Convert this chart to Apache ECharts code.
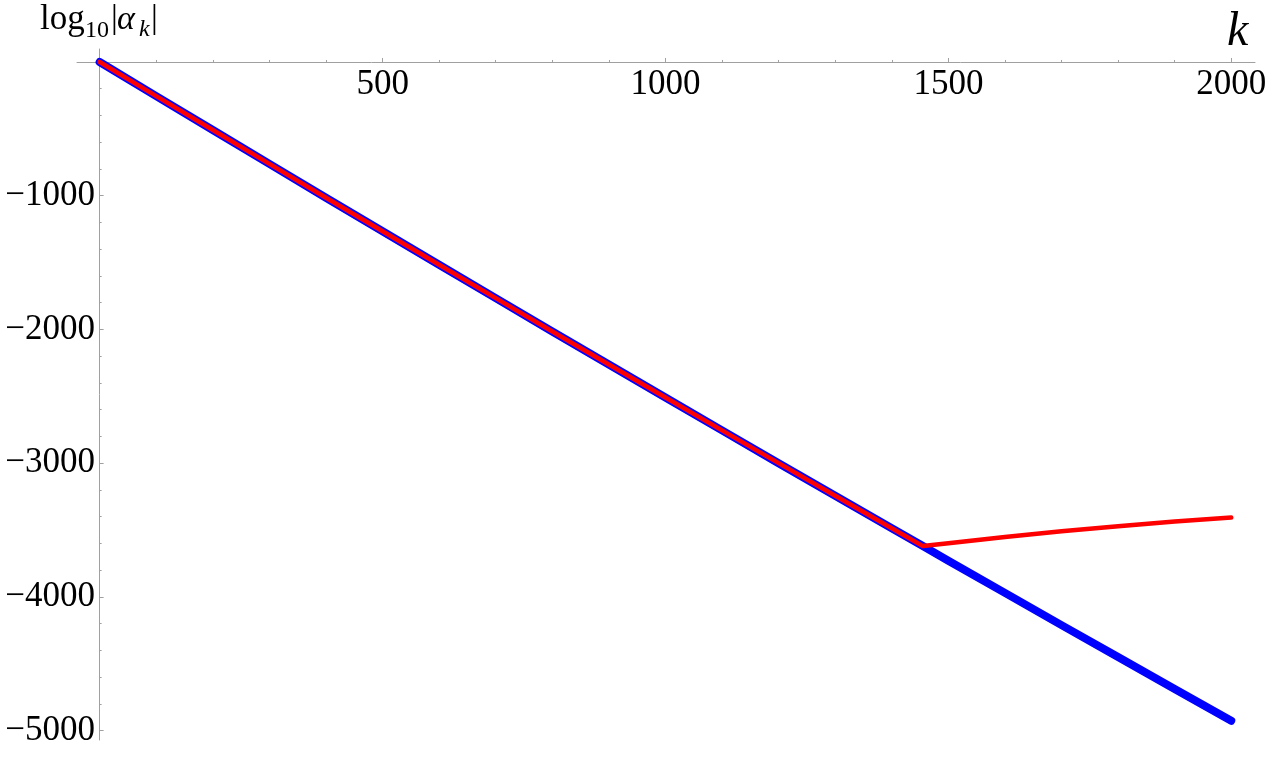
<!DOCTYPE html>
<html>
<head>
<meta charset="utf-8">
<script src="https://cdn.jsdelivr.net/npm/echarts@6/dist/echarts.min.js"></script>
<style>html,body{margin:0;padding:0;background:#fff;}#c{width:1280px;height:757px;}</style>
</head>
<body>
<div id="c"></div>
<script>
// Data
var kBlue = [0,100,200,300,400,500,600,700,800,900,1000,1100,1200,1300,1400,1455,1500,1600,1700,1800,1900,2000];
var vBlue = [0,-255,-509,-762,-1015,-1266,-1516,-1766,-2015,-2262,-2509,-2755,-3000,-3244,-3487,-3620,-3729,-3970,-4211,-4450,-4688,-4926];
var kRed = [0,100,200,300,400,500,600,700,800,900,1000,1100,1200,1300,1400,1455,1500,1600,1700,1800,1900,2000];
var vRed = [0,-255,-509,-762,-1015,-1266,-1516,-1766,-2015,-2262,-2509,-2755,-3000,-3244,-3487,-3620,-3598,-3552,-3509,-3471,-3437,-3407];
var xMajorTicks = [500,1000,1500,2000];
var xMinorTicks = [100,200,300,400,600,700,800,900,1100,1200,1300,1400,1600,1700,1800,1900];
var yMajorTicks = [-5000,-4000,-3000,-2000,-1000];
var yMinorTicks = [-4800,-4600,-4400,-4200,-3800,-3600,-3400,-3200,-2800,-2600,-2400,-2200,-1800,-1600,-1400,-1200,-800,-600,-400,-200];

function pairs(ks, vs){ return ks.map(function(k,i){ return [k, vs[i]]; }); }

var FONT = 'Liberation Serif';
var AXC = '#a0a0a0';
var chart = echarts.init(document.getElementById('c'), null, {renderer:'canvas'});
var X_MIN = -40, X_MAX = 2042, Y_MIN = -5070, Y_MAX = 97;
function minusFmt(v){ return v < 0 ? '\u2212' + Math.abs(v) : String(v); }

chart.setOption({
  animation:false,
  backgroundColor:'#fff',
  grid:[
    {left:77, right:25, top:49, bottom:17, containLabel:false, outerBoundsMode:'none'},
    {left:100, right:25, top:62, bottom:17, containLabel:false, outerBoundsMode:'none'}
  ],
  xAxis:[
    {type:'value', gridIndex:0, min:X_MIN, max:X_MAX, position:'bottom',
     axisLine:{show:true, onZero:true, lineStyle:{color:AXC, width:1}},
     axisTick:{show:true, inside:true, length:4, customValues:xMajorTicks, lineStyle:{color:AXC}},
     axisLabel:{show:false}, splitLine:{show:false}},
    {type:'value', gridIndex:0, min:X_MIN, max:X_MAX, position:'bottom',
     axisLine:{show:false, onZero:true},
     axisTick:{show:true, inside:true, length:2, customValues:xMinorTicks, lineStyle:{color:AXC}},
     axisLabel:{show:false}, splitLine:{show:false}},
    {type:'value', gridIndex:1, min:0, max:X_MAX, position:'top',
     axisLine:{show:false, onZero:false}, axisTick:{show:false},
     axisLabel:{show:true, inside:true, customValues:xMajorTicks, margin:5, color:'#000', fontFamily:FONT, fontSize:35,
       formatter:function(v){ return String(v); }},
     splitLine:{show:false}}
  ],
  yAxis:[
    {type:'value', gridIndex:0, min:Y_MIN, max:Y_MAX, position:'left',
     axisLine:{show:true, onZero:true, lineStyle:{color:AXC, width:1}},
     axisTick:{show:true, inside:true, length:4, customValues:yMajorTicks, lineStyle:{color:AXC}},
     axisLabel:{show:false}, splitLine:{show:false}},
    {type:'value', gridIndex:0, min:Y_MIN, max:Y_MAX, position:'left',
     axisLine:{show:false, onZero:true},
     axisTick:{show:true, inside:true, length:2, customValues:yMinorTicks, lineStyle:{color:AXC}},
     axisLabel:{show:false}, splitLine:{show:false}},
    {type:'value', gridIndex:1, min:Y_MIN, max:0, position:'left',
     axisLine:{show:false, onZero:false}, axisTick:{show:false},
     axisLabel:{show:true, customValues:yMajorTicks, margin:5, color:'#000', fontFamily:FONT, fontSize:35, formatter:minusFmt},
     splitLine:{show:false}}
  ],
  series:[
    {type:'line', xAxisIndex:0, yAxisIndex:0, data:pairs(kBlue, vBlue), showSymbol:false, symbol:'none',
     lineStyle:{color:'#0000ff', width:8, cap:'round', join:'round'}, z:2},
    {type:'line', xAxisIndex:0, yAxisIndex:0, data:pairs(kRed, vRed), showSymbol:false, symbol:'none',
     lineStyle:{color:'#ff0000', width:4.5, cap:'round', join:'round'}, z:3}
  ],
  graphic:[
    {type:'text', left:40, top:2, style:{text:'log', font:'35px "Liberation Serif"', fill:'#000'}},
    {type:'text', left:85, top:19, style:{text:'10', font:'24px "Liberation Serif"', fill:'#000'}},
    {type:'text', left:111, top:2, style:{text:'|', font:'34px "Liberation Serif"', fill:'#000'}},
    {type:'text', left:117, top:3, style:{text:'\u03b1', font:'italic 34px "Liberation Serif"', fill:'#000'}},
    {type:'text', left:139, top:18, style:{text:'k', font:'italic 24px "Liberation Serif"', fill:'#000'}},
    {type:'text', left:151, top:2, style:{text:'|', font:'34px "Liberation Serif"', fill:'#000'}},
    {type:'text', left:1227, top:8, style:{text:'k', font:'italic 48px "Liberation Serif"', fill:'#000'}}
  ]
});
</script>
</body>
</html>
